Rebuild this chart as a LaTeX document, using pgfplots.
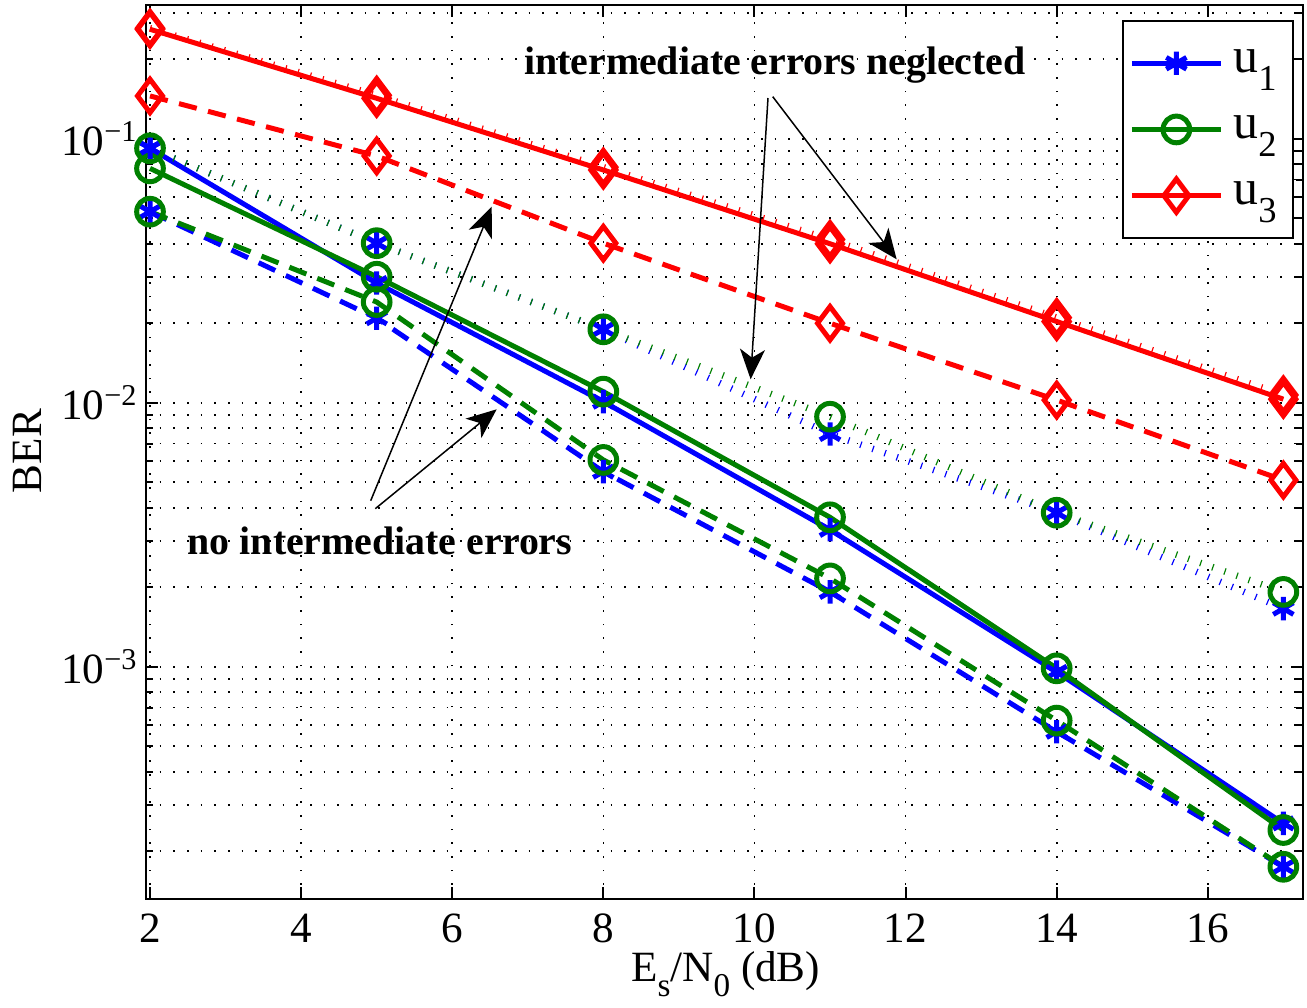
\documentclass[border=0pt]{standalone}
\usepackage{fontspec}
\setmainfont{Liberation Serif}
\usepackage{pgfplots}
\pgfplotsset{compat=1.18}
\usetikzlibrary{arrows.meta}

\definecolor{mblue}{rgb}{0,0,1}
\definecolor{mgreen}{rgb}{0,0.5,0}
\definecolor{mred}{rgb}{1,0,0}

\newcommand\msub[1]{\raisebox{-4.5bp}{\fontsize{10}{10}\selectfont #1}}
\newcommand\lsub[1]{\raisebox{-5.5bp}{\fontsize{11}{11}\selectfont #1}}

\pgfplotsset{
  sol/.style={line width=1.5bp, solid},
  dsh/.style={line width=1.5bp, dash pattern=on 5.5bp off 3.5bp},
  dot/.style={line width=2bp, dash pattern=on 0.35bp off 3.5bp},
  mstar/.style={mark=asterisk, mark size=3.5bp, mark options={solid, line width=1.5bp}},
  mcirc/.style={mark=o, mark size=4bp, mark options={solid, line width=1.5bp}},
  mdiam/.style={mark=diamond, mark size=5bp, mark options={solid, line width=1.5bp}},
}

\pgfplotstableread{
x  b_sol    b_dsh     b_dot    g_sol     g_dsh     g_dot    r_sol   r_dsh    r_dot
2  0.0920   0.0529    0.0920   0.0772    0.0529    0.0920   0.2597  0.1452   0.262
5  0.0284   0.0209    0.0402   0.0300    0.02406   0.0402   0.1422  0.0860   0.146
8  0.01009  0.00548   0.01897  0.01101   0.00607   0.01897  0.0761  0.0402   0.078
11 0.00330  0.00192   0.00761  0.00368   0.00216   0.00885  0.0400  0.0200   0.0415
14 0.000955 0.000567  0.00383  0.000986  0.000625  0.00383  0.0203  0.01023  0.0210
17 0.000255 0.0001746 0.00166  0.0002406 0.0001746 0.00192  0.01031 0.00509  0.0107
}\datatable

\begin{document}
\begin{tikzpicture}
\begin{semilogyaxis}[
  at={(0,0)}, anchor=south west,
  scale only axis, width=347.1bp, height=268.05bp,
  xmin=1.947, xmax=17.26, ymin=1.324e-4, ymax=0.3209,
  xtick={2,4,...,16},
  ytick={1e-3,1e-2,1e-1},
  yticklabels={10\textsuperscript{−3},10\textsuperscript{−2},10\textsuperscript{−1}},
  minor ytick={2e-4,3e-4,4e-4,5e-4,6e-4,7e-4,8e-4,9e-4,
               2e-3,3e-3,4e-3,5e-3,6e-3,7e-3,8e-3,9e-3,
               2e-2,3e-2,4e-2,5e-2,6e-2,7e-2,8e-2,9e-2,0.2,0.3},
  /pgf/number format/assume math mode=true,
  tick label style={font=\fontsize{13}{15}\selectfont},
  xticklabel style={yshift=-1.2bp},
  yticklabel style={xshift=1.2bp},
  tick pos=both, tick align=inside,
  major tick length=3.5bp, minor tick length=2bp,
  every tick/.style={black, line width=0.6bp},
  axis line style={line width=0.6bp},
  grid=both,
  major grid style={black, line width=0.5bp, dash pattern=on 0.5bp off 3.6bp},
  minor grid style={black, line width=0.5bp, dash pattern=on 0.5bp off 3.6bp},
  xlabel={E\msub{s}/N\msub{0} (dB)},
  ylabel={BER},
  label style={font=\fontsize{13}{15}\selectfont},
  xlabel style={at={(axis description cs:0.501,0)}, anchor=base, yshift=-25bp},
  ylabel style={at={(axis description cs:-0.0899,0.5008)}, anchor=base},
  legend style={at={(axis description cs:0.8433,0.9832)}, anchor=north west,
    draw=black, line width=0.6bp, fill=white,
    font=\fontsize{15}{17}\selectfont,
    inner xsep=2bp, inner ysep=7bp, row sep=8.5bp,
    nodes={inner xsep=3bp, inner ysep=1.5bp},
    cells={anchor=west}},
  legend image code/.code={\draw[mark repeat=2,mark phase=2,#1] plot coordinates {(0bp,0bp) (13.35bp,0bp) (26.7bp,0bp)};},
]
\addplot[mblue, sol, mstar] table[x=x, y=b_sol] {\datatable};
\addlegendentry{u\lsub{1}}
\addplot[mgreen, sol, mcirc] table[x=x, y=g_sol] {\datatable};
\addlegendentry{u\lsub{2}}
\addplot[mred, sol, mdiam] table[x=x, y=r_sol] {\datatable};
\addlegendentry{u\lsub{3}}
\addplot[mblue, dsh, mstar, forget plot] table[x=x, y=b_dsh] {\datatable};
\addplot[mgreen, dsh, mcirc, forget plot] table[x=x, y=g_dsh] {\datatable};
\addplot[mred, dsh, mdiam, forget plot] table[x=x, y=r_dsh] {\datatable};
\addplot[mblue, dot, mstar, forget plot] table[x=x, y=b_dot] {\datatable};
\addplot[mgreen, dot, mcirc, forget plot] table[x=x, y=g_dot] {\datatable};
\addplot[mred, dot, mdiam, forget plot] table[x=x, y=r_dot] {\datatable};

\node[font=\fontsize{12}{14}\selectfont\bfseries] at (axis description cs:0.5436,0.9328) {intermediate errors neglected};
\node[font=\fontsize{12}{14}\selectfont\bfseries] at (axis description cs:0.2022,0.4001) {no intermediate errors};
\begin{scope}[line width=0.45bp, -{Stealth[length=9bp,width=7.5bp,inset=2.5bp]}]
\draw (axis description cs:0.5417,0.8974) -- (axis description cs:0.6488,0.7154);
\draw (axis description cs:0.5376,0.8959) -- (axis description cs:0.5226,0.5811);
\draw (axis description cs:0.1942,0.4452) -- (axis description cs:0.2988,0.7743);
\draw (axis description cs:0.1982,0.4363) -- (axis description cs:0.3031,0.5475);
\end{scope}
\end{semilogyaxis}
\pgfresetboundingbox
\path (-43.8bp,-32.85bp) rectangle (348.3bp,269.55bp);
\end{tikzpicture}
\end{document}
